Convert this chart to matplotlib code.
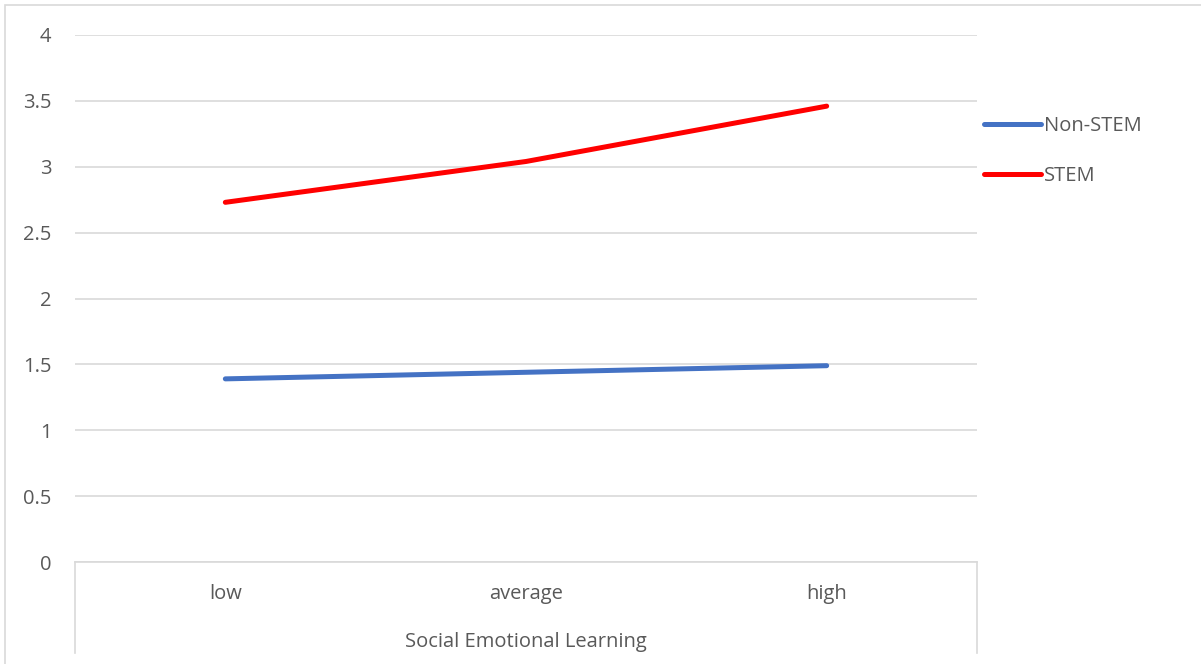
import matplotlib.pyplot as plt
from matplotlib.patches import Rectangle

categories = ['low', 'average', 'high']
non_stem = [1.39, 1.44, 1.49]
stem = [2.73, 3.04, 3.46]
y_ticks = [0, 0.5, 1, 1.5, 2, 2.5, 3, 3.5, 4]
y_labels = ['0', '0.5', '1', '1.5', '2', '2.5', '3', '3.5', '4']

plt.rcParams['font.family'] = ['Open Sans', 'DejaVu Sans']
text_color = '#595959'
grid_color = '#d9d9d9'
fs = 14.5

W, H = 1201, 664
fig = plt.figure(figsize=(W / 100, H / 100), dpi=100)

# outer chart frame
fig.patches.append(Rectangle((5 / W, -0.01), 1.2, 1 - 5 / H + 0.01, transform=fig.transFigure,
                             fill=False, edgecolor=grid_color, linewidth=1.2))

left, right, top, bottom = 75, 977, 35, 562
ax = fig.add_axes([left / W, 1 - bottom / H, (right - left) / W, (bottom - top) / H])

x = list(range(len(categories)))
ax.plot(x, non_stem, color='#4472C4', linewidth=3.6, solid_capstyle='round', label='Non-STEM', zorder=3)
ax.plot(x, stem, color='#FF0000', linewidth=3.6, solid_capstyle='round', label='STEM', zorder=3)

ax.set_xlim(-0.5, len(categories) - 0.5)
ax.set_ylim(0, 4)
ax.set_yticks(y_ticks)
ax.set_yticklabels(y_labels)
ax.yaxis.grid(True, color=grid_color, linewidth=1.2)
ax.set_axisbelow(True)

for s in ['top', 'right', 'left']:
    ax.spines[s].set_visible(False)
ax.spines['bottom'].set_color(grid_color)
ax.spines['bottom'].set_linewidth(1.2)

ax.set_xticks(x)
ax.set_xticklabels(categories)
ax.tick_params(axis='x', length=0, pad=16, labelsize=fs, labelcolor=text_color)
ax.tick_params(axis='y', length=0, pad=17, labelsize=fs, labelcolor=text_color)

# category axis borders
depth = (653 - bottom) / (bottom - top)
for xv in [0, 1]:
    ax.plot([xv, xv], [0, -depth], transform=ax.transAxes, color=grid_color,
            linewidth=1.2, clip_on=False)

ax.set_xlabel('Social Emotional Learning', fontsize=fs, color=text_color, labelpad=20)

ax.legend(loc='upper left', bbox_to_anchor=(984 / W, 1 - 116 / H), bbox_transform=fig.transFigure,
          frameon=False, fontsize=fs, labelcolor=text_color, handlelength=2.85,
          handletextpad=0.15, labelspacing=1.5, borderpad=0, borderaxespad=0)

fig.savefig('out.png', dpi=100)
